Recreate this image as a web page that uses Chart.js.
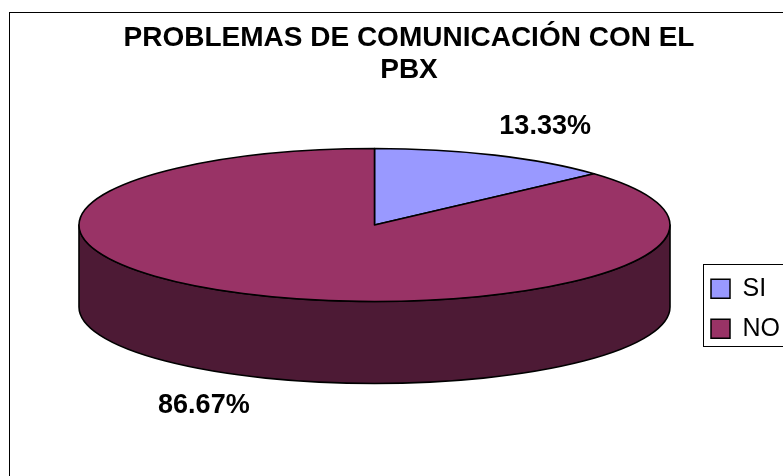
<!DOCTYPE html>
<html>
<head>
<meta charset="utf-8">
<script src="https://cdn.jsdelivr.net/npm/chart.js@4.4.0/dist/chart.umd.min.js"></script>
<style>
  html, body { margin: 0; padding: 0; background: #fff; }
  #wrap { width: 783px; height: 476px; }
</style>
</head>
<body>
<div id="wrap"><canvas id="pie" width="783" height="476"></canvas></div>
<script>
// datos del gráfico
const categories = ['SI', 'NO'];
const percentages = [13.33, 86.67];
const titleLines = ['PROBLEMAS DE COMUNICACIÓN CON EL', 'PBX'];

const topColors = ['#9999FF', '#993366'];
const sideColors = ['#4D4D80', '#4D1A35'];
const FONT = '"Liberation Sans", Arial, Helvetica, sans-serif';

// ellipse of the tilted pie (layout only)
const pieBox = { cx: 374.5, cy: 225, rx: 295.5, ry: 76.5, depth: 82, labelFactor: 1.42 };

// draws the arcs computed by Chart.js as a flattened pie with a wall
const pie3d = {
  id: 'pie3d',
  beforeDatasetsDraw(chart) {
    const ctx = chart.ctx;
    const arcs = chart.getDatasetMeta(0).data;
    const { cx, cy, rx, ry, depth } = pieBox;
    ctx.save();
    ctx.lineWidth = 1.6;
    ctx.strokeStyle = '#000';
    ctx.lineJoin = 'round';

    // pared frontal (only the part facing the viewer)
    arcs.forEach((arc, i) => {
      const { startAngle, endAngle } = arc.getProps(['startAngle', 'endAngle'], true);
      for (let k = -1; k <= 1; k++) {
        const a0 = Math.max(startAngle, k * 2 * Math.PI);
        const a1 = Math.min(endAngle, k * 2 * Math.PI + Math.PI);
        if (a1 <= a0) continue;
        ctx.beginPath();
        ctx.ellipse(cx, cy, rx, ry, 0, a0, a1);
        ctx.ellipse(cx, cy + depth, rx, ry, 0, a1, a0, true);
        ctx.closePath();
        ctx.fillStyle = sideColors[i];
        ctx.fill();
        ctx.stroke();
      }
    });

    // caras superiores
    arcs.forEach((arc) => {
      const { startAngle, endAngle } = arc.getProps(['startAngle', 'endAngle'], true);
      ctx.beginPath();
      ctx.moveTo(cx, cy);
      ctx.ellipse(cx, cy, rx, ry, 0, startAngle, endAngle);
      ctx.closePath();
      ctx.fillStyle = arc.options.backgroundColor;
      ctx.fill();
      ctx.stroke();
    });
    ctx.restore();
    return false;
  },
  afterDraw(chart) {
    const ctx = chart.ctx;
    const arcs = chart.getDatasetMeta(0).data;
    const values = chart.data.datasets[0].data;
    const { cx, cy, rx, ry, depth, labelFactor } = pieBox;
    ctx.save();
    // etiquetas de porcentaje
    ctx.font = 'bold 27px ' + FONT;
    ctx.fillStyle = '#000';
    ctx.textAlign = 'center';
    ctx.textBaseline = 'middle';
    arcs.forEach((arc, i) => {
      const { startAngle, endAngle } = arc.getProps(['startAngle', 'endAngle'], true);
      const mid = (startAngle + endAngle) / 2;
      const sy = Math.sin(mid);
      const x = cx + rx * labelFactor * Math.cos(mid);
      const y = cy + ry * 1.41 * sy + (sy > 0 ? depth : 0);
      ctx.fillText(values[i].toFixed(2) + '%', x, y);
    });

    // marco del gráfico
    ctx.lineWidth = 1;
    ctx.strokeStyle = '#000';
    ctx.strokeRect(9.5, 12.5, chart.width + 20, chart.height + 20);

    // borde de la leyenda
    const boxes = chart.legend.legendHitBoxes;
    if (boxes && boxes.length) {
      const first = boxes[0];
      const last = boxes[boxes.length - 1];
      const top = first.top - 12;
      const bottom = last.top + last.height + 5;
      ctx.strokeRect(Math.round(first.left - 8) + 0.5, Math.round(top) + 0.5, chart.width, Math.round(bottom - top));
    }
    ctx.restore();
  }
};

new Chart(document.getElementById('pie'), {
  type: 'pie',
  data: {
    labels: categories,
    datasets: [{
      data: percentages,
      backgroundColor: topColors,
      borderColor: '#000',
      borderWidth: 1.5
    }]
  },
  options: {
    responsive: false,
    animation: false,
    devicePixelRatio: 1,
    layout: { padding: { left: 28, right: -7, top: 0, bottom: 0 } },
    plugins: {
      title: {
        display: true,
        text: titleLines,
        color: '#000',
        font: { family: FONT, size: 28, weight: 'bold', lineHeight: 1.15 },
        padding: { top: 22, bottom: 55 }
      },
      legend: {
        position: 'right',
        fullSize: false,
        labels: {
          color: '#000',
          boxWidth: 19,
          boxHeight: 19,
          padding: 15,
          font: { family: FONT, size: 25 }
        }
      },
      tooltip: { enabled: false }
    }
  },
  plugins: [pie3d]
});
</script>
</body>
</html>
